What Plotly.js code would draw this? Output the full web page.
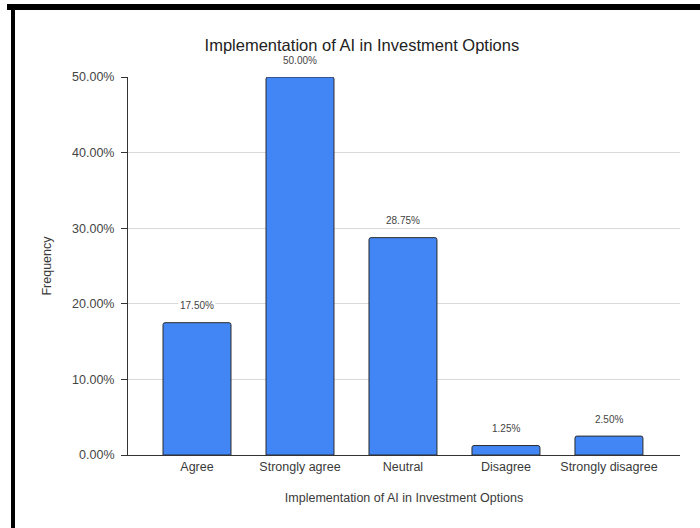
<!DOCTYPE html>
<html>
<head>
<meta charset="utf-8">
<script src="https://cdn.plot.ly/plotly-3.0.1.min.js"></script>
<style>
html,body{margin:0;padding:0;background:#fff;}
#wrap{position:relative;width:700px;height:528px;overflow:hidden;}
#chart{position:absolute;left:0;top:0;width:700px;height:528px;}
.bar{position:absolute;background:#000;}
</style>
</head>
<body>
<div id="wrap">
<div id="chart"></div>
<div class="bar" style="left:7px;top:4px;width:693px;height:6px;"></div>
<div class="bar" style="left:11px;top:4px;width:4px;height:524px;"></div>
</div>
<script>
const categories = ["Agree", "Strongly agree", "Neutral", "Disagree", "Strongly disagree"];
const frequency = [17.50, 50.00, 28.75, 1.25, 2.50];
const yTicks = [0, 10, 20, 30, 40, 50];
const yTickLabels = ["0.00%", "10.00%", "20.00%", "30.00%", "40.00%", "50.00%"];
const chartTitle = "Implementation of AI in Investment Options";
const xTitle = "Implementation of AI in Investment Options";
const yTitle = "Frequency";

const font = "Liberation Sans, Arial, sans-serif";

const trace = {
  type: "bar",
  x: categories,
  y: frequency,
  width: 0.66,
  marker: {color: "#4285F4", line: {color: "#2a2a2a", width: 1}, cornerradius: 2},
  hoverinfo: "skip"
};

const annotations = categories.map((c, i) => ({
  x: c, y: frequency[i], xref: "x", yref: "y",
  text: frequency[i].toFixed(2) + "%",
  showarrow: false, yanchor: "middle", yshift: 17,
  bgcolor: "#ffffff",
  font: {family: font, size: 10, color: "#444"}
}));

const layout = {
  width: 700, height: 528,
  margin: {l: 128, r: 20, t: 77, b: 73},
  paper_bgcolor: "#fff", plot_bgcolor: "#fff",
  showlegend: false,
  title: {text: chartTitle, x: 0.517, xanchor: "center", y: 0.915, yanchor: "middle",
          font: {family: font, size: 16.5, color: "#222"}},
  xaxis: {
    type: "category", range: [-0.67, 4.69],
    showline: true, linecolor: "#333", linewidth: 1,
    showgrid: false, ticks: "",
    tickfont: {family: font, size: 12.5, color: "#3a3a3a"},
    title: {text: xTitle, standoff: 20, font: {family: font, size: 12.5, color: "#3a3a3a"}},
    fixedrange: true
  },
  yaxis: {
    range: [0, 50],
    tickvals: yTicks, ticktext: yTickLabels,
    showline: true, linecolor: "#333", linewidth: 1,
    ticks: "outside", ticklen: 6, tickcolor: "#333",
    ticklabelstandoff: 4,
    showgrid: true, gridcolor: "#d9d9d9", gridwidth: 1,
    zeroline: false,
    tickfont: {family: font, size: 12.5, color: "#444"},
    title: {text: yTitle, standoff: 17, font: {family: font, size: 12.5, color: "#3a3a3a"}},
    fixedrange: true
  },
  annotations: annotations
};

Plotly.newPlot("chart", [trace], layout, {displayModeBar: false, staticPlot: true});
</script>
</body>
</html>
